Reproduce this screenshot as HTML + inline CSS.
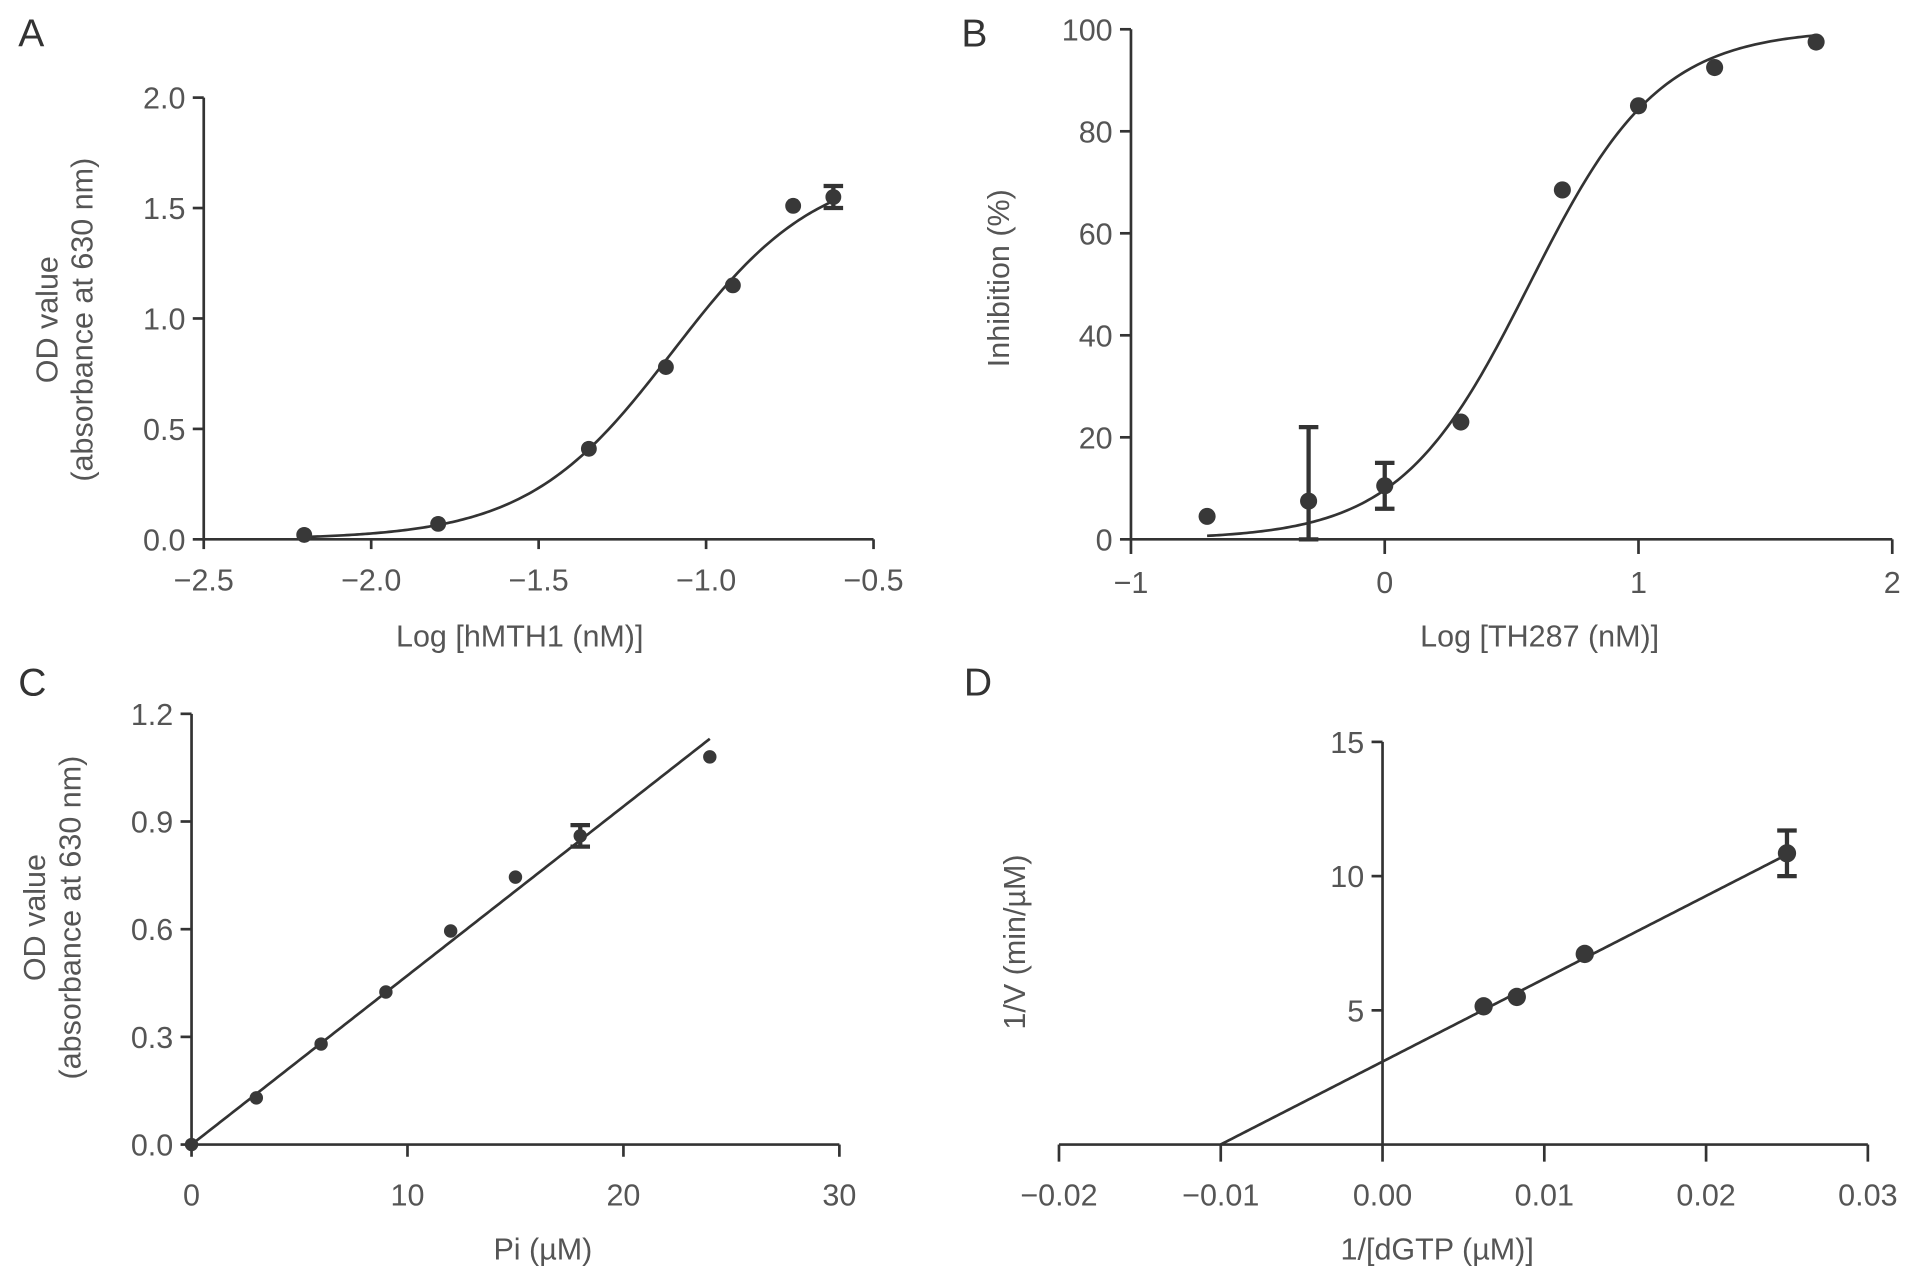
<!DOCTYPE html>
<html><head><meta charset="utf-8"><style>
html,body{margin:0;padding:0;background:#fff;}
svg{display:block;}
text{font-family:"Liberation Sans Narrow","Liberation Sans",sans-serif;fill:#555;}
.tick{font-size:25px;}
.ttl{font-size:25px;}
.letter{font-size:32px;fill:#333;}
</style></head><body>
<svg id="fig" width="1913" height="1280" viewBox="0 0 1568 1049" preserveAspectRatio="none" xmlns="http://www.w3.org/2000/svg">
<text class="letter" x="15" y="38">A</text>
<text class="letter" x="788" y="38">B</text>
<text class="letter" x="15" y="570">C</text>
<text class="letter" x="790" y="570">D</text>
</svg>
<script>
// Panel A data
const aX = [-2.2, -1.8, -1.35, -1.12, -0.92, -0.74, -0.62];
const aY = [0.02, 0.07, 0.41, 0.78, 1.15, 1.51, 1.55];
const aErr = [0, 0, 0, 0, 0, 0, 0.05];
const aFit = [1.7, -1.1, 2.0]; // top, logEC50, hill
const aXTicks = [-2.5, -2.0, -1.5, -1.0, -0.5];
const aXTickLabels = ["\u22122.5", "\u22122.0", "\u22121.5", "\u22121.0", "\u22120.5"];
const aYTicks = [0, 0.5, 1.0, 1.5, 2.0];
const aYTickLabels = ["0.0", "0.5", "1.0", "1.5", "2.0"];
// Panel B data
const bX = [-0.7, -0.3, 0, 0.3, 0.7, 1.0, 1.3, 1.7];
const bY = [4.5, 7.5, 10.5, 23, 68.5, 85, 92.5, 97.5];
const bErrLo = [0, 7.5, 4.5, 0, 0, 0, 0, 0];
const bErrHi = [0, 14.5, 4.5, 0, 0, 0, 0, 0];
const bFit = [100, 0.57, 1.7]; // top, logEC50, hill
const bXTicks = [-1, 0, 1, 2];
const bXTickLabels = ["\u22121", "0", "1", "2"];
const bYTicks = [0, 20, 40, 60, 80, 100];
const bYTickLabels = ["0", "20", "40", "60", "80", "100"];
// Panel C data
const cX = [0, 3, 6, 9, 12, 15, 18, 24];
const cY = [0, 0.13, 0.28, 0.425, 0.595, 0.745, 0.86, 1.08];
const cErr = [0, 0, 0, 0, 0, 0, 0.03, 0];
const cFit = [0.0471, 0]; // slope, intercept
const cXTicks = [0, 10, 20, 30];
const cXTickLabels = ["0", "10", "20", "30"];
const cYTicks = [0, 0.3, 0.6, 0.9, 1.2];
const cYTickLabels = ["0.0", "0.3", "0.6", "0.9", "1.2"];
// Panel D data
const dX = [0.00625, 0.0083, 0.0125, 0.025];
const dY = [5.15, 5.5, 7.1, 10.85];
const dErr = [0, 0, 0, 0.85];
const dFit = [308.6, 3.09];
const dXTicks = [-0.02, -0.01, 0, 0.01, 0.02, 0.03];
const dXTickLabels = ["\u22120.02", "\u22120.01", "0.00", "0.01", "0.02", "0.03"];
const dYTicks = [5, 10, 15];
const dYTickLabels = ["5", "10", "15"];

const svg = document.getElementById('fig');
const NS = 'http://www.w3.org/2000/svg';
function mk(tag, attrs, parent) {
  const e = document.createElementNS(NS, tag);
  for (const k in attrs) e.setAttribute(k, attrs[k]);
  (parent || svg).appendChild(e);
  return e;
}
function lin(d0, d1, r0, r1) { return v => r0 + (v - d0) / (d1 - d0) * (r1 - r0); }

function axes(g, sx, sy, o) {
  const ax = mk('line', {x1: sx(o.xmin), x2: sx(o.xmax), y1: o.xAxisY, y2: o.xAxisY, stroke: '#333', 'stroke-width': 2.2}, g);
  
  
  const ay = mk('line', {x1: o.yAxisX, x2: o.yAxisX, y1: sy(o.ymin), y2: sy(o.ymax), stroke: '#333', 'stroke-width': 2.2}, g);
  
  
  o.xt.forEach((v, i) => {
    const t = mk('line', {x1: sx(v), x2: sx(v), y1: o.xAxisY, y2: o.xAxisY + o.tl, stroke: '#333', 'stroke-width': 2.2}, g);
    
    
    const l = mk('text', {x: sx(v), y: o.xLabY, 'text-anchor': 'middle', class: 'tick'}, g);
    l.textContent = o.xl[i];
    
    
  });
  o.yt.forEach((v, i) => {
    const t = mk('line', {x1: o.yAxisX - 9, x2: o.yAxisX, y1: sy(v), y2: sy(v), stroke: '#333', 'stroke-width': 2.2}, g);
    
    
    const l = mk('text', {x: o.yAxisX - 15, y: sy(v) + 9, 'text-anchor': 'end', class: 'tick'}, g);
    l.textContent = o.yl[i];
    
    
  });
  const xt = mk('text', {x: o.xTitle[0], y: o.xTitle[1], 'text-anchor': 'middle', class: 'ttl'}, g);
  xt.textContent = o.xTitle[2];
  
  
  o.yTitle.forEach(yt => {
    const t = mk('text', {x: 0, y: 0, 'text-anchor': 'middle', class: 'ttl', transform: 'translate(' + yt[0] + ',' + yt[1] + ') rotate(-90)'}, g);
    t.textContent = yt[2];
    
    
  });
}
function points(g, xs, ys, lo, hi, sx, sy, r) {
  xs.forEach((x, i) => {
    if (lo[i] > 0 || hi[i] > 0) {
      const y1 = sy(ys[i] - lo[i]), y2 = sy(ys[i] + hi[i]), cx = sx(x);
      const eb = mk('path', {d: 'M' + cx + ',' + y1 + 'V' + y2 + 'M' + (cx - 8) + ',' + y1 + 'H' + (cx + 8) + 'M' + (cx - 8) + ',' + y2 + 'H' + (cx + 8), stroke: '#333', 'stroke-width': 3.5, fill: 'none'}, g);
      
      
    }
    const c = mk('circle', {cx: sx(x), cy: sy(ys[i]), r: r, fill: '#383838'}, g);
    
    
  });
}
function pathFromFn(g, f, x0, x1, sx, sy, name) {
  let d = '';
  for (let i = 0; i <= 200; i++) {
    const x = x0 + (x1 - x0) * i / 200;
    d += (i ? 'L' : 'M') + sx(x).toFixed(2) + ',' + sy(f(x)).toFixed(2);
  }
  const p = mk('path', {d: d, stroke: '#333', 'stroke-width': 2.2, fill: 'none'}, g);
  
  
}

// Panel A
(function () {
  const g = mk('g', {});
  
  
  const sx = lin(-2.5, -0.5, 167, 716), sy = lin(0, 2.0, 442, 80);
  axes(g, sx, sy, {xmin: -2.5, xmax: -0.5, ymin: 0, ymax: 2.0, xAxisY: sy(0), yAxisX: sx(-2.5), tl: 8, xLabY: 484,
    xt: aXTicks, xl: aXTickLabels, yt: aYTicks, yl: aYTickLabels,
    xTitle: [426, 530, 'Log [hMTH1 (nM)]'],
    yTitle: [[47, 262, 'OD value'], [76, 262, '(absorbance at 630 nm)']]});
  pathFromFn(g, x => aFit[0] / (1 + Math.pow(10, aFit[2] * (aFit[1] - x))), aX[0], aX[aX.length - 1], sx, sy, 'fit-curve');
  points(g, aX, aY, aErr, aErr, sx, sy, 6.5);
})();
// Panel B
(function () {
  const g = mk('g', {});
  
  
  const sx = lin(-1, 2, 927, 1551), sy = lin(0, 100, 442, 24);
  axes(g, sx, sy, {xmin: -1, xmax: 2, ymin: 0, ymax: 100, xAxisY: sy(0), yAxisX: sx(-1), tl: 12, xLabY: 486,
    xt: bXTicks, xl: bXTickLabels, yt: bYTicks, yl: bYTickLabels,
    xTitle: [1262, 530, 'Log [TH287 (nM)]'],
    yTitle: [[827, 228, 'Inhibition (%)']]});
  pathFromFn(g, x => bFit[0] / (1 + Math.pow(10, bFit[2] * (bFit[1] - x))), -0.7, 1.7, sx, sy, 'fit-curve');
  points(g, bX, bY, bErrLo, bErrHi, sx, sy, 7);
})();
// Panel C
(function () {
  const g = mk('g', {});
  
  
  const sx = lin(0, 30, 157, 688), sy = lin(0, 1.2, 938, 585);
  axes(g, sx, sy, {xmin: 0, xmax: 30, ymin: 0, ymax: 1.2, xAxisY: sy(0), yAxisX: sx(0), tl: 10, xLabY: 988,
    xt: cXTicks, xl: cXTickLabels, yt: cYTicks, yl: cYTickLabels,
    xTitle: [445, 1032, 'Pi (\u00b5M)'],
    yTitle: [[37, 752, 'OD value'], [66, 752, '(absorbance at 630 nm)']]});
  pathFromFn(g, x => cFit[0] * x + cFit[1], 0, 24, sx, sy, 'fit-line');
  points(g, cX, cY, cErr, cErr, sx, sy, 5.5);
})();
// Panel D
(function () {
  const g = mk('g', {});
  
  
  const sx = lin(-0.02, 0.03, 868, 1531), sy = lin(0, 15, 938, 608);
  axes(g, sx, sy, {xmin: -0.02, xmax: 0.03, ymin: 0, ymax: 15, xAxisY: sy(0), yAxisX: sx(0), tl: 14, xLabY: 988,
    xt: dXTicks, xl: dXTickLabels, yt: dYTicks, yl: dYTickLabels,
    xTitle: [1178, 1032, '1/[dGTP (\u00b5M)]'],
    yTitle: [[840, 772, '1/V (min/\u00b5M)']]});
  pathFromFn(g, x => dFit[0] * x + dFit[1], -dFit[1] / dFit[0], 0.025, sx, sy, 'fit-line');
  points(g, dX, dY, dErr, dErr, sx, sy, 7.5);
})();
</script>
</body></html>
